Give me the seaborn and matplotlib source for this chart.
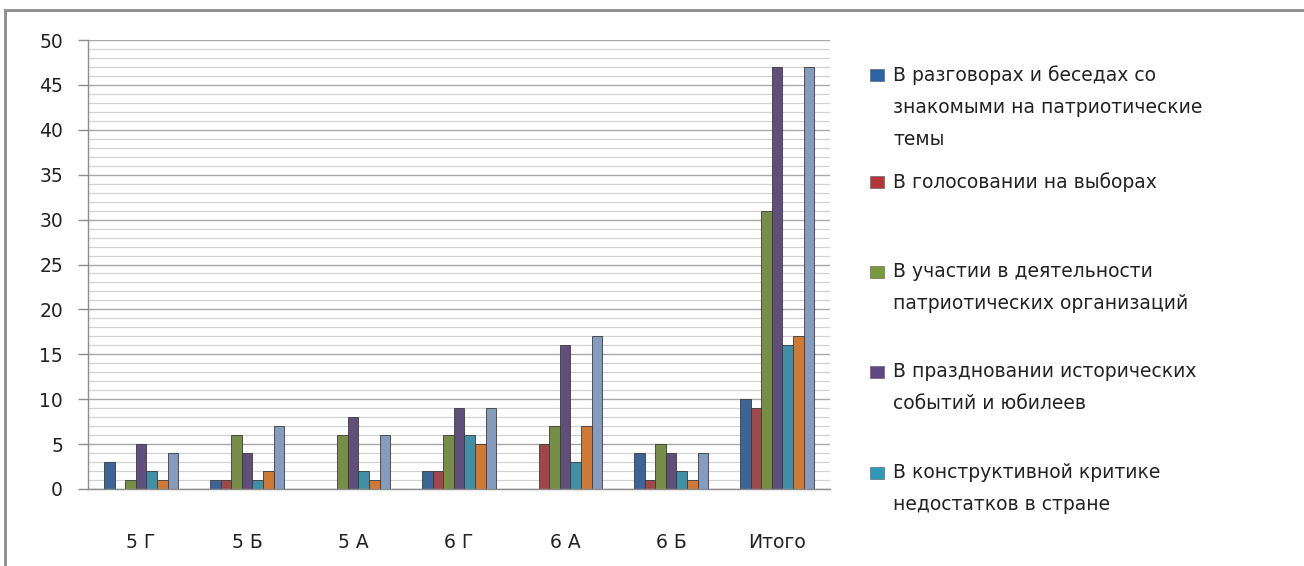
import matplotlib
matplotlib.use("Agg")
import matplotlib.pyplot as plt
from matplotlib.patches import Rectangle
from matplotlib.ticker import MultipleLocator
import seaborn as sns
import pandas as pd

# Данные
classes = ["5 Г", "5 Б", "5 А", "6 Г", "6 А", "6 Б", "Итого"]
series = [
    "В разговорах и беседах со\nзнакомыми на патриотические\nтемы",
    "В голосовании на выборах",
    "В участии в деятельности\nпатриотических организаций",
    "В праздновании исторических\nсобытий и юбилеев",
    "В конструктивной критике\nнедостатков в стране",
    "Ряд 6",
    "Ряд 7",
]
s_talks = [3, 1, 0, 2, 0, 4, 10]
s_vote = [0, 1, 0, 2, 5, 1, 9]
s_orgs = [1, 6, 6, 6, 7, 5, 31]
s_holidays = [5, 4, 8, 9, 16, 4, 47]
s_critic = [2, 1, 2, 6, 3, 2, 16]
s_six = [1, 2, 1, 5, 7, 1, 17]
s_seven = [4, 7, 6, 9, 17, 4, 47]
values = [s_talks, s_vote, s_orgs, s_holidays, s_critic, s_six, s_seven]

colors = ["#2E62A6", "#B0383A", "#7A9A3A", "#5E4782", "#2E9AB8", "#E8761C", "#7B9AC9"]
n_legend = 5  # в исходной диаграмме видны только пять подписей

sns.set_theme(style="white")
plt.rcParams["font.family"] = ["DejaVu Sans"]

rows = []
for name, vals in zip(series, values):
    for cls, v in zip(classes, vals):
        rows.append({"класс": cls, "ряд": name, "значение": v})
df = pd.DataFrame(rows)

fig = plt.figure(figsize=(13.04, 5.66), dpi=100)
ax = fig.add_axes([88 / 1304, 1 - 489 / 566, (830 - 88) / 1304, (489 - 40) / 566])

sns.barplot(data=df, x="класс", y="значение", hue="ряд", order=classes,
            hue_order=series, palette=colors, width=0.7, gap=0,
            edgecolor="#3a3a3a", linewidth=0.6, legend=False, ax=ax)

ax.set_ylim(0, 50)
ax.yaxis.set_major_locator(MultipleLocator(5))
ax.yaxis.set_minor_locator(MultipleLocator(1))
ax.grid(which="minor", axis="y", color="#d2d2d2", linewidth=0.9)
ax.grid(which="major", axis="y", color="#a8a8a8", linewidth=1.0)
ax.set_axisbelow(True)
for side in ["top", "right"]:
    ax.spines[side].set_visible(False)
for side in ["left", "bottom"]:
    ax.spines[side].set_color("#8c8c8c")
    ax.spines[side].set_linewidth(1.0)
ax.tick_params(axis="y", which="major", left=True, length=7, width=1,
               color="#8c8c8c", pad=11, labelsize=13.5, labelcolor="#222222")
ax.tick_params(axis="y", which="minor", left=False)
ax.tick_params(axis="x", bottom=False, pad=26, labelsize=13.5, labelcolor="#222222")
ax.set_xlabel("")
ax.set_ylabel("")

# Легенда (как в исходнике — маркер у первой строки подписи)
leg_y = [75, 182, 272, 372, 473]
for i in range(n_legend):
    y = leg_y[i]
    fig.patches.append(Rectangle((870 / 1304, 1 - (y + 6) / 566), 14 / 1304, 12 / 566,
                                 transform=fig.transFigure, facecolor=colors[i],
                                 edgecolor="#555555", linewidth=0.4))
    fig.text(893 / 1304, 1 - (y - 10) / 566, series[i], ha="left", va="top",
             fontsize=13.5, color="#222222", linespacing=1.88)

# Рамка диаграммы
fig.patches.append(Rectangle((5 / 1304, -0.1), 1.2, 1 - 10 / 566 + 0.1,
                             transform=fig.transFigure, fill=False,
                             edgecolor="#8c8c8c", linewidth=2))

fig.savefig("out.png", dpi=100, facecolor="white")
